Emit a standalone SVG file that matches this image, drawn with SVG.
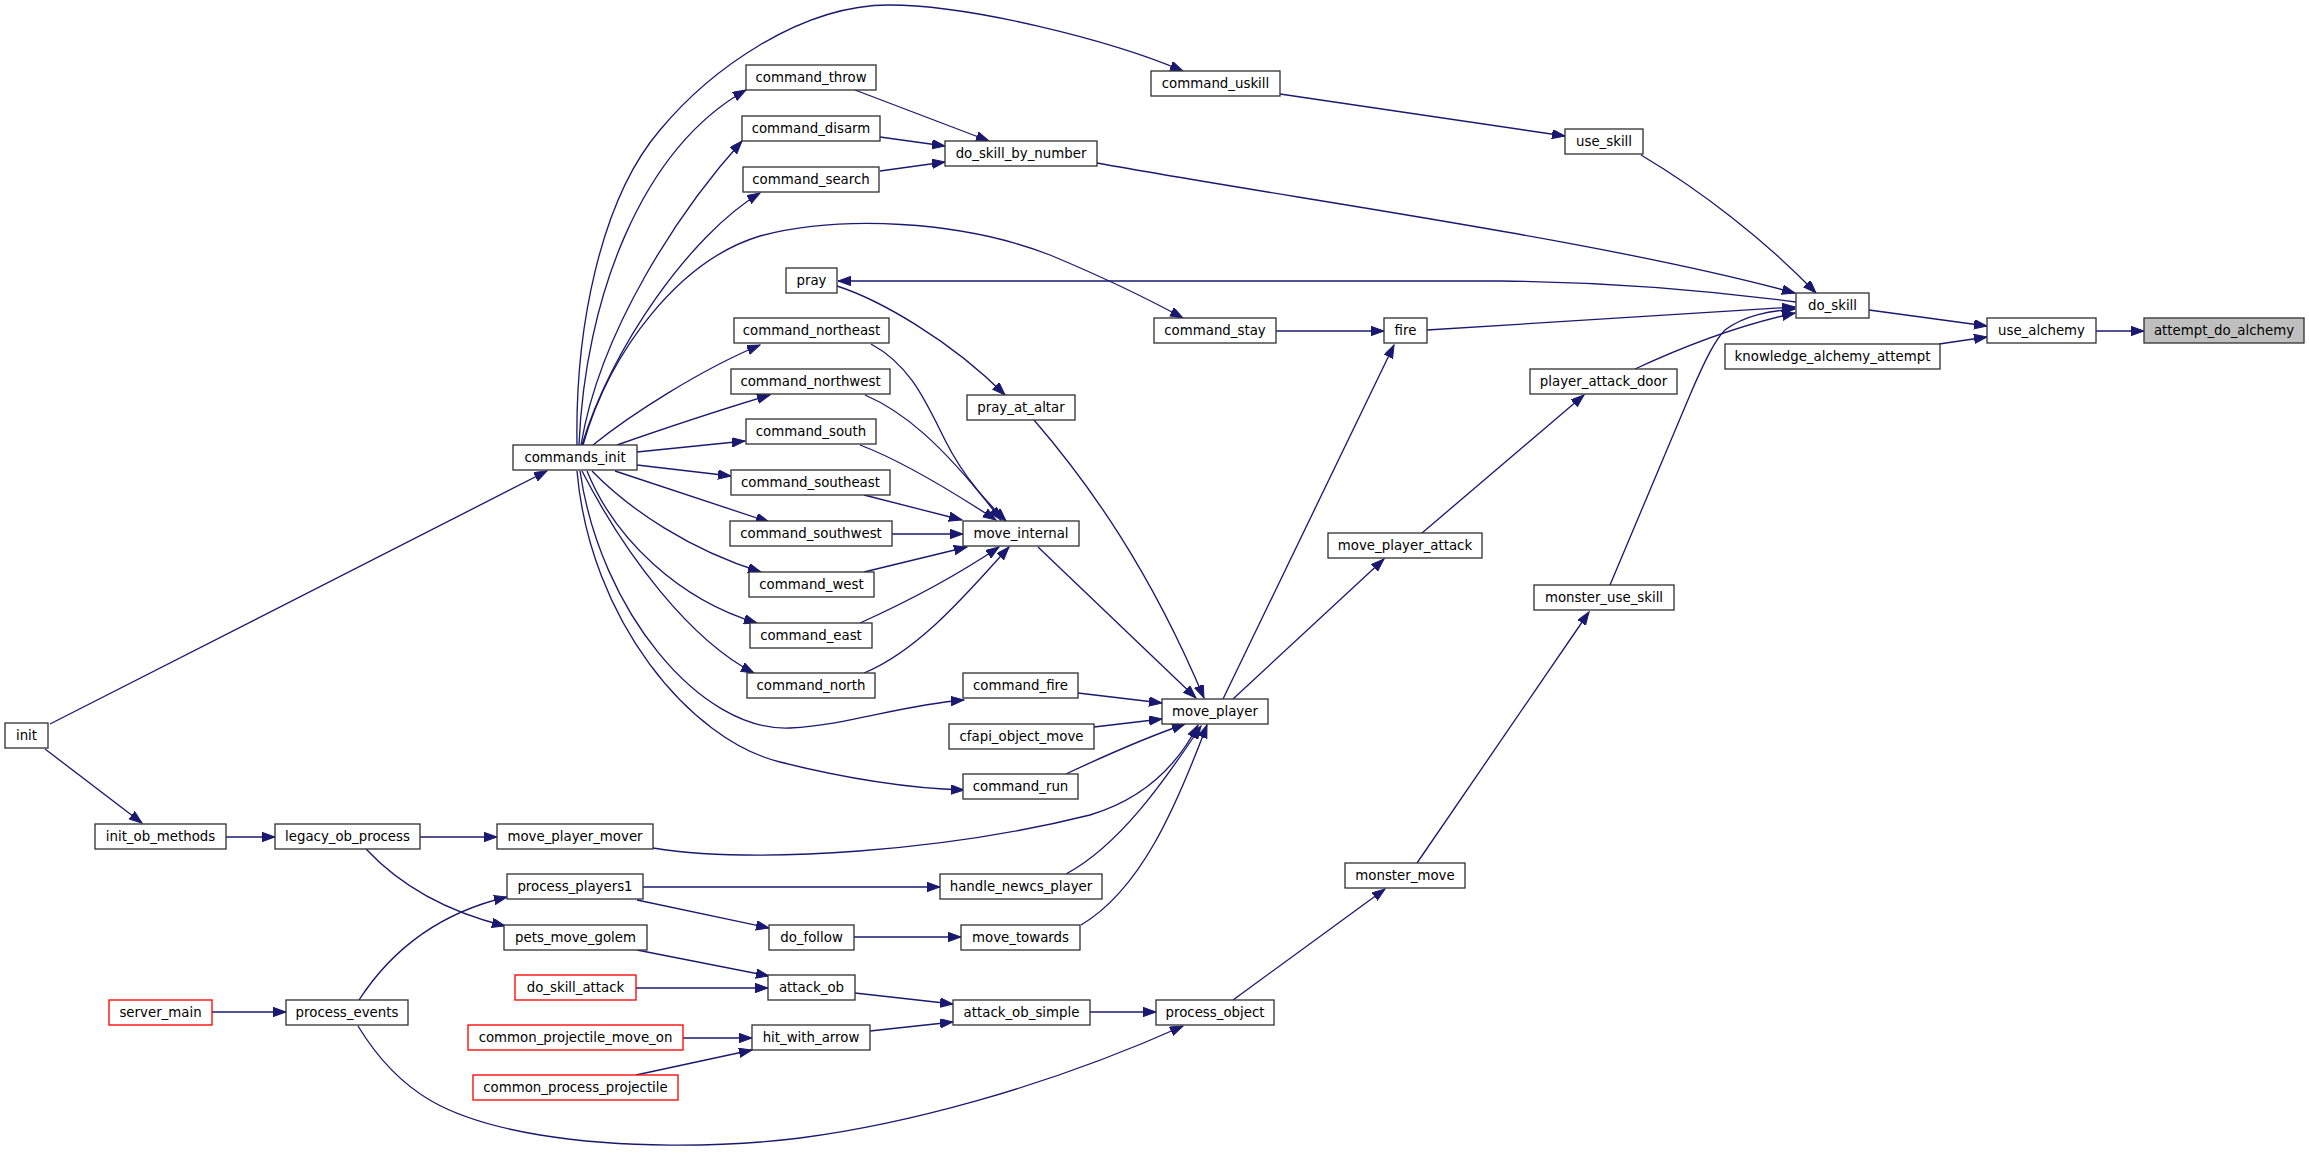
<svg xmlns="http://www.w3.org/2000/svg" width="2309" height="1156" viewBox="0 0 2309 1156">
<style>
.n rect{fill:#ffffff;stroke:#333333;stroke-width:1.33}
.n.red rect{stroke:#ff0000}
.n.root rect{fill:#bfbfbf}
.n text{font-family:"DejaVu Sans","Liberation Sans",sans-serif;font-size:13.33px;fill:#000;text-anchor:middle}
#edges path{fill:none;stroke:#191970;stroke-width:1.33;marker-end:url(#ah)}
</style>
<defs>
<marker id="ah" markerWidth="14" markerHeight="10" refX="13" refY="4.7" orient="auto" markerUnits="userSpaceOnUse">
<path d="M0,0 L13,4.7 L0,9.4 z" fill="#191970" stroke="#191970" stroke-width="1"/>
</marker>
</defs>
<rect width="2309" height="1156" fill="#ffffff"/>
<g id="edges">
<path d="M2096,331 L2144,331"/>
<path d="M1869,310 L1987,326"/>
<path d="M1939,344 L1987,337"/>
<path d="M1641,155 C1700,190 1765,240 1816,293"/>
<path d="M1097,163 C1300,200 1600,240 1795,293"/>
<path d="M1280,94 L1565,136"/>
<path d="M1427,330 L1795,307"/>
<path d="M1796,302 C1720,292 1620,282 1500,281 L838,281"/>
<path d="M1635,369 C1680,348 1740,325 1795,313"/>
<path d="M1610,585 L1690,395 C1705,360 1715,340 1725,330 C1745,315 1770,311 1795,309"/>
<path d="M1276,331 L1384,331"/>
<path d="M1223,699 L1394,345"/>
<path d="M1233,699 L1384,559"/>
<path d="M1422,533 L1584,395"/>
<path d="M1417,863 L1589,612"/>
<path d="M1233,1000 L1385,889"/>
<path d="M1090,1012 L1156,1012"/>
<path d="M855,993 L953,1004"/>
<path d="M870,1031 L953,1022"/>
<path d="M358,1026 C400,1095 450,1120 540,1135 C620,1148 720,1148 800,1138 C900,1125 1040,1090 1183,1026"/>
<path d="M212,1012 L286,1012"/>
<path d="M359,1000 C385,960 430,915 507,897"/>
<path d="M366,849 C395,880 440,910 505,926"/>
<path d="M226,837 L275,837"/>
<path d="M420,837 L497,837"/>
<path d="M653,848 C760,865 950,850 1090,815 C1140,800 1175,770 1198,725"/>
<path d="M45,749 L142,823"/>
<path d="M50,724 L547,471"/>
<path d="M643,887 L940,887"/>
<path d="M637,900 L769,928"/>
<path d="M637,950 L769,976"/>
<path d="M636,988 L768,988"/>
<path d="M683,1038 L752,1038"/>
<path d="M636,1075 L752,1050"/>
<path d="M854,937 L961,937"/>
<path d="M1081,925 C1140,890 1175,810 1207,725"/>
<path d="M1066,874 C1120,845 1165,780 1201,726"/>
<path d="M1066,774 C1100,758 1145,738 1185,724"/>
<path d="M1094,727 L1162,719"/>
<path d="M1078,693 L1162,703"/>
<path d="M1038,547 L1196,698"/>
<path d="M1034,420 C1090,485 1150,570 1204,698"/>
<path d="M837,286 C880,300 950,340 1005,395"/>
<path d="M855,90 L989,141"/>
<path d="M880,137 L945,146"/>
<path d="M880,171 L945,162"/>
<path d="M577,445 C575,330 600,200 660,130 C710,70 800,5 889,5 C970,5 1110,40 1183,71"/>
<path d="M579,445 C585,300 640,150 746,90"/>
<path d="M581,445 C600,330 680,210 742,141"/>
<path d="M582,445 C610,350 690,235 760,193"/>
<path d="M583,445 C610,350 680,260 760,236 C840,215 960,220 1050,255 C1110,280 1150,300 1183,318"/>
<path d="M593,445 C630,415 700,370 760,345"/>
<path d="M617,445 C660,430 720,410 770,395"/>
<path d="M637,452 L745,441"/>
<path d="M637,465 L731,476"/>
<path d="M615,471 L769,522"/>
<path d="M592,471 C630,510 690,550 761,572"/>
<path d="M587,471 C615,540 680,600 757,623"/>
<path d="M582,471 C625,555 690,640 754,673"/>
<path d="M580,471 C600,610 700,732 790,728 C850,725 900,705 964,700"/>
<path d="M577,471 C590,620 690,740 780,762 C840,777 900,788 964,790"/>
<path d="M871,344 C910,365 925,400 945,440 C965,480 990,505 1006,521"/>
<path d="M865,395 C900,410 940,440 1001,520"/>
<path d="M860,445 C900,460 950,490 996,520"/>
<path d="M864,495 L962,520"/>
<path d="M892,534 L963,534"/>
<path d="M864,572 L967,547"/>
<path d="M860,623 C900,605 950,580 999,547"/>
<path d="M864,673 C920,650 970,590 1009,547"/>
</g>
<g id="attempt_do_alchemy" class="n root"><rect x="2144" y="318" width="160" height="25"/><text x="2224" y="335">attempt_do_alchemy</text></g>
<g id="use_alchemy" class="n"><rect x="1987" y="318" width="109" height="25"/><text x="2041.5" y="335">use_alchemy</text></g>
<g id="do_skill" class="n"><rect x="1796" y="293" width="73" height="25"/><text x="1832.5" y="310">do_skill</text></g>
<g id="knowledge_alchemy_attempt" class="n"><rect x="1725" y="344" width="215" height="25"/><text x="1832.5" y="361">knowledge_alchemy_attempt</text></g>
<g id="use_skill" class="n"><rect x="1565" y="129" width="78" height="25"/><text x="1604" y="146">use_skill</text></g>
<g id="player_attack_door" class="n"><rect x="1530" y="369" width="147" height="25"/><text x="1603.5" y="386">player_attack_door</text></g>
<g id="monster_use_skill" class="n"><rect x="1534" y="585" width="140" height="25"/><text x="1604" y="602">monster_use_skill</text></g>
<g id="command_uskill" class="n"><rect x="1151" y="71" width="129" height="25"/><text x="1215.5" y="88">command_uskill</text></g>
<g id="do_skill_by_number" class="n"><rect x="945" y="141" width="152" height="25"/><text x="1021" y="158">do_skill_by_number</text></g>
<g id="command_stay" class="n"><rect x="1154" y="318" width="122" height="25"/><text x="1215" y="335">command_stay</text></g>
<g id="fire" class="n"><rect x="1384" y="318" width="43" height="25"/><text x="1405.5" y="335">fire</text></g>
<g id="pray" class="n"><rect x="786" y="268" width="51" height="25"/><text x="811.5" y="285">pray</text></g>
<g id="move_player_attack" class="n"><rect x="1328" y="533" width="154" height="25"/><text x="1405" y="550">move_player_attack</text></g>
<g id="move_player" class="n"><rect x="1162" y="699" width="106" height="25"/><text x="1215" y="716">move_player</text></g>
<g id="monster_move" class="n"><rect x="1345" y="863" width="120" height="25"/><text x="1405" y="880">monster_move</text></g>
<g id="process_object" class="n"><rect x="1156" y="1000" width="118" height="25"/><text x="1215" y="1017">process_object</text></g>
<g id="command_throw" class="n"><rect x="746" y="65" width="130" height="25"/><text x="811" y="82">command_throw</text></g>
<g id="command_disarm" class="n"><rect x="742" y="116" width="138" height="25"/><text x="811" y="133">command_disarm</text></g>
<g id="command_search" class="n"><rect x="743" y="167" width="136" height="25"/><text x="811" y="184">command_search</text></g>
<g id="command_northeast" class="n"><rect x="734" y="318" width="155" height="25"/><text x="811.5" y="335">command_northeast</text></g>
<g id="command_northwest" class="n"><rect x="731" y="369" width="159" height="25"/><text x="810.5" y="386">command_northwest</text></g>
<g id="command_south" class="n"><rect x="746" y="419" width="130" height="25"/><text x="811" y="436">command_south</text></g>
<g id="command_southeast" class="n"><rect x="731" y="470" width="159" height="25"/><text x="810.5" y="487">command_southeast</text></g>
<g id="command_southwest" class="n"><rect x="730" y="521" width="162" height="25"/><text x="811" y="538">command_southwest</text></g>
<g id="command_west" class="n"><rect x="749" y="572" width="125" height="25"/><text x="811.5" y="589">command_west</text></g>
<g id="command_east" class="n"><rect x="750" y="623" width="122" height="25"/><text x="811" y="640">command_east</text></g>
<g id="command_north" class="n"><rect x="747" y="673" width="128" height="25"/><text x="811" y="690">command_north</text></g>
<g id="pray_at_altar" class="n"><rect x="967" y="395" width="108" height="25"/><text x="1021" y="412">pray_at_altar</text></g>
<g id="move_internal" class="n"><rect x="963" y="521" width="116" height="25"/><text x="1021" y="538">move_internal</text></g>
<g id="command_fire" class="n"><rect x="963" y="673" width="115" height="25"/><text x="1020.5" y="690">command_fire</text></g>
<g id="cfapi_object_move" class="n"><rect x="949" y="724" width="145" height="25"/><text x="1021.5" y="741">cfapi_object_move</text></g>
<g id="command_run" class="n"><rect x="963" y="774" width="115" height="25"/><text x="1020.5" y="791">command_run</text></g>
<g id="handle_newcs_player" class="n"><rect x="940" y="874" width="162" height="25"/><text x="1021" y="891">handle_newcs_player</text></g>
<g id="move_towards" class="n"><rect x="961" y="925" width="119" height="25"/><text x="1020.5" y="942">move_towards</text></g>
<g id="attack_ob_simple" class="n"><rect x="953" y="1000" width="137" height="25"/><text x="1021.5" y="1017">attack_ob_simple</text></g>
<g id="commands_init" class="n"><rect x="513" y="445" width="124" height="25"/><text x="575" y="462">commands_init</text></g>
<g id="init" class="n"><rect x="5" y="723" width="43" height="25"/><text x="26.5" y="740">init</text></g>
<g id="init_ob_methods" class="n"><rect x="95" y="824" width="131" height="25"/><text x="160.5" y="841">init_ob_methods</text></g>
<g id="legacy_ob_process" class="n"><rect x="275" y="824" width="145" height="25"/><text x="347.5" y="841">legacy_ob_process</text></g>
<g id="move_player_mover" class="n"><rect x="497" y="824" width="156" height="25"/><text x="575" y="841">move_player_mover</text></g>
<g id="process_players1" class="n"><rect x="507" y="874" width="136" height="25"/><text x="575" y="891">process_players1</text></g>
<g id="pets_move_golem" class="n"><rect x="504" y="925" width="143" height="25"/><text x="575.5" y="942">pets_move_golem</text></g>
<g id="do_skill_attack" class="n red"><rect x="515" y="975" width="121" height="25"/><text x="575.5" y="992">do_skill_attack</text></g>
<g id="server_main" class="n red"><rect x="109" y="1000" width="103" height="25"/><text x="160.5" y="1017">server_main</text></g>
<g id="process_events" class="n"><rect x="286" y="1000" width="122" height="25"/><text x="347" y="1017">process_events</text></g>
<g id="common_projectile_move_on" class="n red"><rect x="468" y="1025" width="215" height="25"/><text x="575.5" y="1042">common_projectile_move_on</text></g>
<g id="common_process_projectile" class="n red"><rect x="473" y="1075" width="205" height="25"/><text x="575.5" y="1092">common_process_projectile</text></g>
<g id="do_follow" class="n"><rect x="769" y="925" width="85" height="25"/><text x="811.5" y="942">do_follow</text></g>
<g id="attack_ob" class="n"><rect x="768" y="975" width="87" height="25"/><text x="811.5" y="992">attack_ob</text></g>
<g id="hit_with_arrow" class="n"><rect x="752" y="1025" width="118" height="25"/><text x="811" y="1042">hit_with_arrow</text></g>
</svg>
